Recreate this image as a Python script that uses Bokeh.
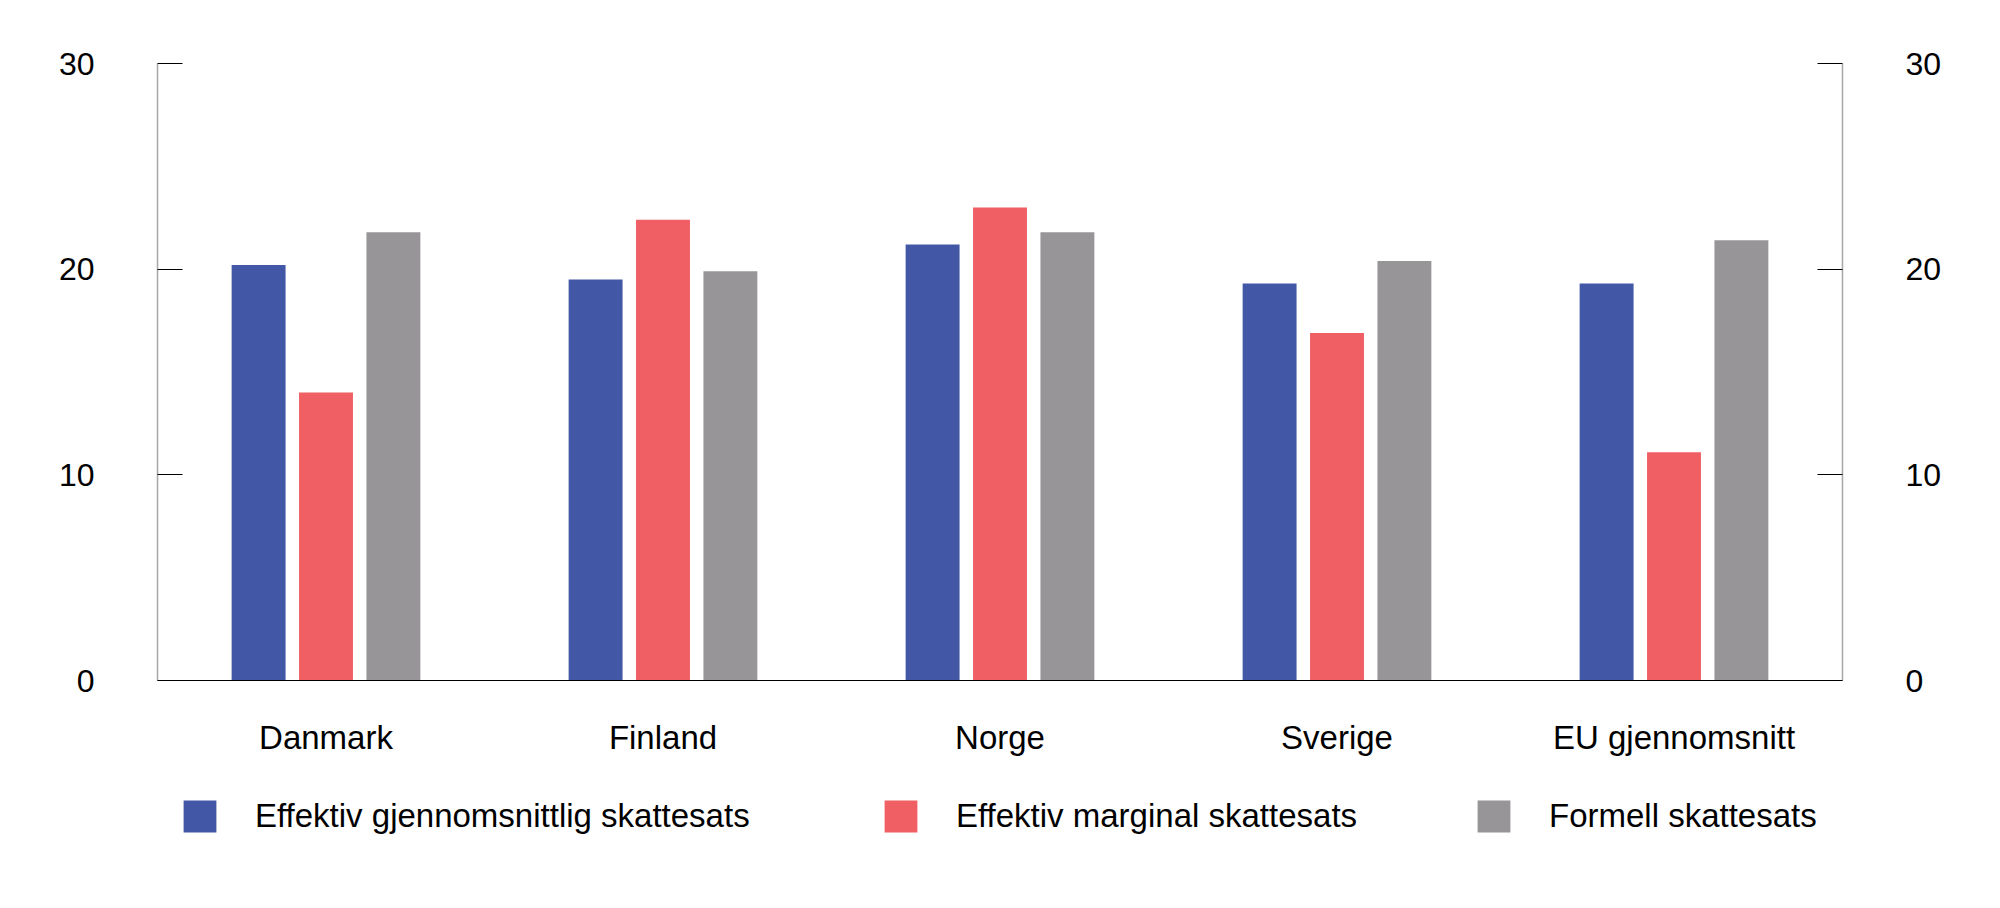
from bokeh.plotting import figure
from bokeh.layouts import column
from bokeh.models import (FactorRange, Range1d, LinearAxis, FixedTicker,
                          Legend, LegendItem, ColumnDataSource)
from bokeh.transform import dodge
from bokeh.embed import file_html
from bokeh.resources import INLINE

# Selskapsskatt i Norden og EU (prosent)
countries = ["Danmark", "Finland", "Norge", "Sverige", "EU gjennomsnitt"]
avg_rate = [20.2, 19.5, 21.2, 19.3, 19.3]          # effektiv gjennomsnittlig
marginal_rate = [14.0, 22.4, 23.0, 16.9, 11.1]     # effektiv marginal
statutory_rate = [21.8, 19.9, 21.8, 20.4, 21.4]    # formell
series_names = ["Effektiv gjennomsnittlig skattesats",
                "Effektiv marginal skattesats",
                "Formell skattesats"]
y_ticks = [0, 10, 20, 30]

colors = ["#4257A6", "#F05F64", "#979598"]
FONT = "Liberation Sans"
W, H_MAIN, H_KEY = 2000, 780, 128

source = ColumnDataSource(dict(country=countries, avg=avg_rate,
                               marg=marginal_rate, stat=statutory_rate))
fields = ["avg", "marg", "stat"]
offsets = [-0.2, 0.0, 0.2]

p = figure(width=W, height=H_MAIN,
           x_range=FactorRange(*countries), y_range=Range1d(0, 30),
           output_backend="svg", toolbar_location=None,
           min_border_left=157, min_border_right=158,
           min_border_top=63, min_border_bottom=100,
           outline_line_color=None, background_fill_color="white",
           border_fill_color="white")

p.xgrid.grid_line_color = None
p.ygrid.grid_line_color = None

right = LinearAxis()
p.add_layout(right, "right")

for ax in [p.yaxis[0], right]:
    ax.ticker = FixedTicker(ticks=y_ticks)
    ax.major_tick_in = 25
    ax.major_tick_out = 0
    ax.minor_tick_line_color = None
    ax.axis_line_color = "#a6a6a6"
    ax.axis_line_width = 1.5
    ax.major_tick_line_color = "black"
    ax.major_label_standoff = 63
    ax.major_label_text_font = FONT
    ax.major_label_text_font_size = "32px"
    ax.major_label_text_color = "black"

xa = p.xaxis[0]
xa.axis_line_color = "black"
xa.major_tick_line_color = None
xa.minor_tick_line_color = None
xa.major_tick_in = 0
xa.major_tick_out = 0
xa.major_label_standoff = 38
xa.major_label_text_font = FONT
xa.major_label_text_font_size = "33px"
xa.major_label_text_color = "black"

for f, off, c in zip(fields, offsets, colors):
    p.vbar(x=dodge("country", off, range=p.x_range), top=f, width=0.16,
           source=source, fill_color=c, line_color=None)

# key strip under the chart: one legend entry per series
key = figure(width=W, height=H_KEY,
             x_range=FactorRange(*countries), y_range=Range1d(0, 30),
             output_backend="svg", toolbar_location=None,
             min_border_left=157, min_border_right=158,
             min_border_top=0, min_border_bottom=0,
             outline_line_color=None, background_fill_color="white",
             border_fill_color="white")
key.xaxis.visible = False
key.yaxis.visible = False
key.xgrid.grid_line_color = None
key.ygrid.grid_line_color = None

# area swatches are inset by 10% on each side of the glyph box
GLYPH_W, GLYPH_H = 41, 40
key_x = [22, 723, 1316]   # legend offsets from the left edge of the frame
for name, f, off, c, kx in zip(series_names, fields, offsets, colors, key_x):
    swatch = key.vbar(x=dodge("country", off, range=key.x_range), top=f,
                      width=0.16, source=source, fill_color=c,
                      line_color=None, visible=False)
    lg = Legend(items=[LegendItem(label=name, renderers=[swatch])],
                location=(kx, H_KEY - 16 - GLYPH_H), orientation="horizontal",
                glyph_width=GLYPH_W, glyph_height=GLYPH_H, label_standoff=35,
                padding=0, margin=0, border_line_color=None,
                background_fill_alpha=0, inactive_fill_alpha=0,
                label_text_font=FONT, label_text_font_size="33px",
                label_height=GLYPH_H, label_text_color="black")
    key.add_layout(lg, "center")

layout = column(p, key, spacing=0)
open("out.html", "w").write(file_html(layout, INLINE))
